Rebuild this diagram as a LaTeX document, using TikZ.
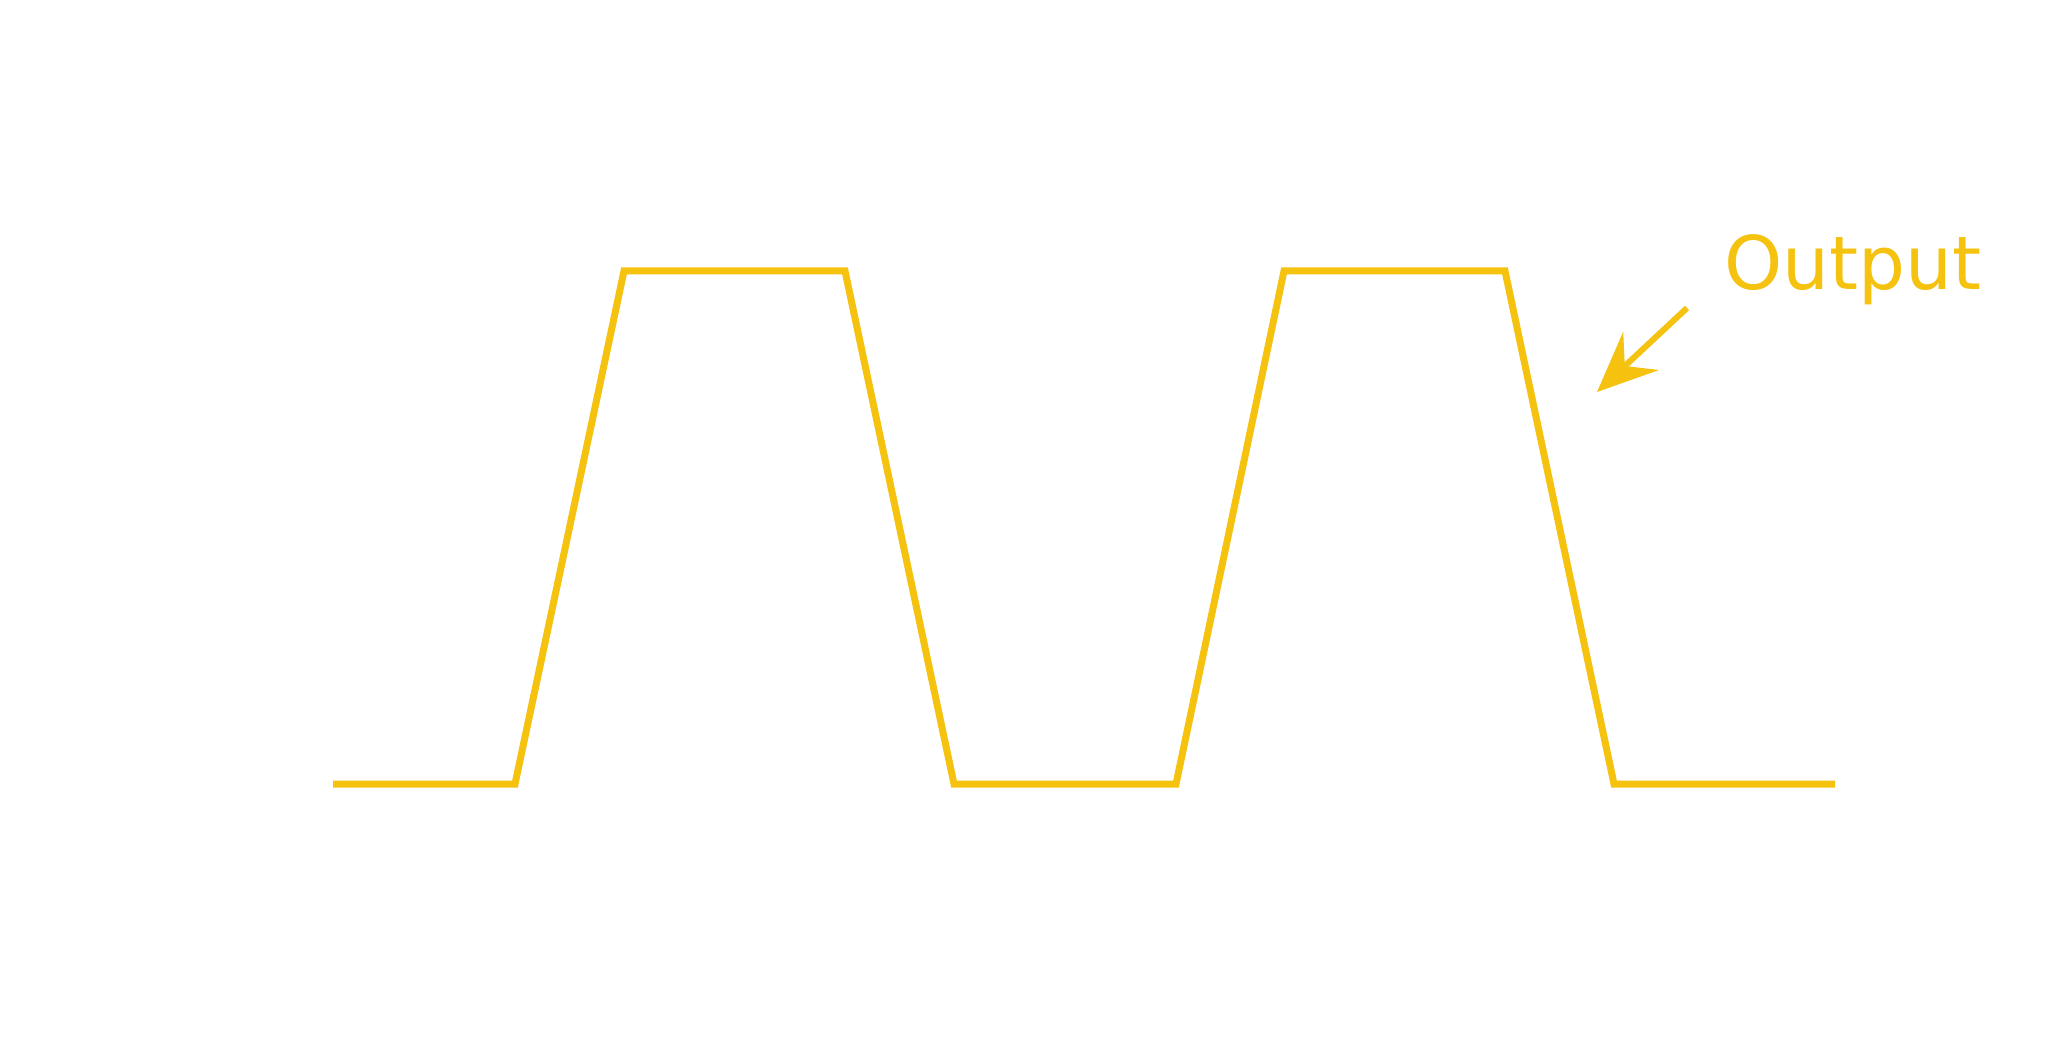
\documentclass[tikz,border=0pt]{standalone}
\usepackage{fontspec}
\setmainfont{DejaVu Sans}
\usetikzlibrary{arrows.meta}
\definecolor{wave}{HTML}{F4C20F}
\begin{document}
\begin{tikzpicture}[x=1pt,y=-1pt,
  sig/.style={draw=wave,line width=7pt,line join=miter},
  lbl/.style={text=wave,font=\fontsize{74}{80}\selectfont,anchor=base west,inner sep=0pt}]
\useasboundingbox (0,0) rectangle (2070,1056);
\draw[sig] (333,784) -- (515,784) -- (624,271) -- (845,271) -- (954,784) -- (1176,784) -- (1284,271) -- (1505,271) -- (1614,784) -- (1835,784);
\node[lbl] (out) at (1724,290) {Output};
\coordinate (a0) at (1687,308);
\coordinate (a1) at (1597,392);
\draw[draw=wave,line width=6pt,-{Stealth[length=60pt,width=52pt,inset=22pt]}] (a0) -- (a1);
\end{tikzpicture}
\end{document}
